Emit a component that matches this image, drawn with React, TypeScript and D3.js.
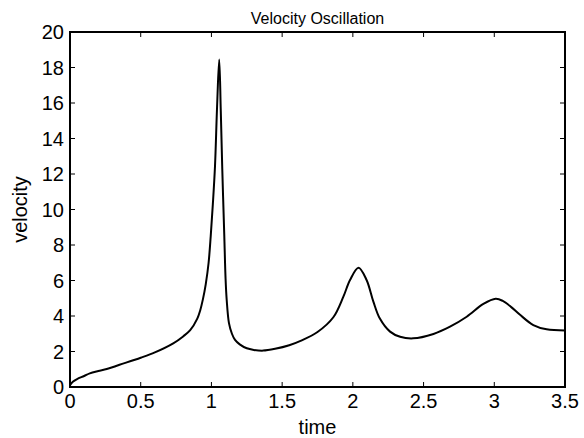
import React, { useEffect, useRef } from 'react';
import * as d3 from 'd3';

// values
const timeValues = [
  0, 0.02, 0.05, 0.1, 0.14, 0.2, 0.26, 0.35, 0.5, 0.6, 0.73, 0.8, 0.85, 0.9, 0.92,
  0.94, 0.96, 0.98, 0.995, 1.01, 1.025, 1.04, 1.055, 1.066, 1.077, 1.091, 1.1, 1.108,
  1.124, 1.145, 1.167, 1.2, 1.25, 1.3, 1.365, 1.45, 1.55, 1.63, 1.75, 1.862, 1.933,
  1.98, 2.04, 2.097, 2.145, 2.19, 2.263, 2.334, 2.426, 2.57, 2.687, 2.805, 2.923,
  3.01, 3.06, 3.12, 3.18, 3.276, 3.37, 3.5,
];
const velocityValues = [
  0.1, 0.3, 0.45, 0.62, 0.77, 0.9, 1.01, 1.25, 1.65, 1.95, 2.46, 2.85, 3.2, 3.85, 4.3,
  4.95, 5.8, 7.0, 8.5, 10.3, 12.4, 15.8, 18.45, 15.6, 12.2, 8.5, 6.1, 4.9,
  3.6, 3.0, 2.65, 2.4, 2.18, 2.09, 2.05, 2.15, 2.35, 2.6, 3.1, 3.93, 5.09,
  6.03, 6.72, 6.03, 4.81, 3.87, 3.12, 2.83, 2.74, 2.99, 3.4, 3.96, 4.68,
  4.97, 4.85, 4.5, 4.08, 3.49, 3.25, 3.19,
];
const xTicks = [0, 0.5, 1, 1.5, 2, 2.5, 3, 3.5];
const yTicks = [0, 2, 4, 6, 8, 10, 12, 14, 16, 18, 20];

const App = () => {
  const svgRef = useRef(null);

  useEffect(() => {
    const width = 584;
    const height = 438;
    const margin = { top: 32, right: 19, bottom: 51, left: 70 };
    const innerWidth = width - margin.left - margin.right;
    const innerHeight = height - margin.top - margin.bottom;
    const font = 'Liberation Sans, Arial, Helvetica, sans-serif';

    const svg = d3.select(svgRef.current);
    svg.selectAll('*').remove();

    const g = svg.append('g')
      .attr('transform', `translate(${margin.left}, ${margin.top})`);

    const xScale = d3.scaleLinear().domain([0, 3.5]).range([0, innerWidth]);
    const yScale = d3.scaleLinear().domain([0, 20]).range([innerHeight, 0]);

    // ticks pointing inward on all four sides (matlab style)
    const tickLen = 5;
    const tickG = g.append('g').attr('stroke', '#000').attr('stroke-width', 1);
    xTicks.forEach(t => {
      const x = xScale(t);
      tickG.append('line').attr('x1', x).attr('x2', x).attr('y1', innerHeight).attr('y2', innerHeight - tickLen);
      tickG.append('line').attr('x1', x).attr('x2', x).attr('y1', 0).attr('y2', tickLen);
    });
    yTicks.forEach(v => {
      const y = yScale(v);
      tickG.append('line').attr('x1', 0).attr('x2', tickLen).attr('y1', y).attr('y2', y);
      tickG.append('line').attr('x1', innerWidth).attr('x2', innerWidth - tickLen).attr('y1', y).attr('y2', y);
    });

    // curve
    const points = timeValues.map((t, i) => [t, velocityValues[i]]);
    const line = d3.line()
      .x(d => xScale(d[0]))
      .y(d => yScale(d[1]))
      .curve(d3.curveCatmullRom.alpha(0.5));
    g.append('path')
      .attr('d', line(points))
      .attr('fill', 'none')
      .attr('stroke', '#000')
      .attr('stroke-width', 2)
      .attr('stroke-linejoin', 'round');

    // box
    g.append('rect')
      .attr('width', innerWidth)
      .attr('height', innerHeight)
      .attr('fill', 'none')
      .attr('stroke', '#000')
      .attr('stroke-width', 2);

    // tick labels
    g.selectAll('.xlab')
      .data(xTicks)
      .enter()
      .append('text')
      .attr('x', d => xScale(d))
      .attr('y', innerHeight + 21)
      .attr('text-anchor', 'middle')
      .style('font-family', font)
      .style('font-size', '20px')
      .text(d => String(d));

    g.selectAll('.ylab')
      .data(yTicks)
      .enter()
      .append('text')
      .attr('x', -6)
      .attr('y', d => yScale(d) + 7)
      .attr('text-anchor', 'end')
      .style('font-family', font)
      .style('font-size', '20px')
      .text(d => String(d));

    // title and axis labels
    svg.append('text')
      .attr('x', margin.left + innerWidth / 2)
      .attr('y', 24)
      .attr('text-anchor', 'middle')
      .style('font-family', font)
      .style('font-size', '16px')
      .text('Velocity Oscillation');

    svg.append('text')
      .attr('x', margin.left + innerWidth / 2)
      .attr('y', 434)
      .attr('text-anchor', 'middle')
      .style('font-family', font)
      .style('font-size', '20px')
      .text('time');

    svg.append('text')
      .attr('transform', `translate(27, ${margin.top + innerHeight / 2}) rotate(-90)`)
      .attr('text-anchor', 'middle')
      .style('font-family', font)
      .style('font-size', '20px')
      .text('velocity');
  }, []);

  return (
    <svg
      ref={svgRef}
      width={584}
      height={438}
      style={{ position: 'absolute', left: 0, top: 0, background: '#fff' }}
    />
  );
};

export default App;
